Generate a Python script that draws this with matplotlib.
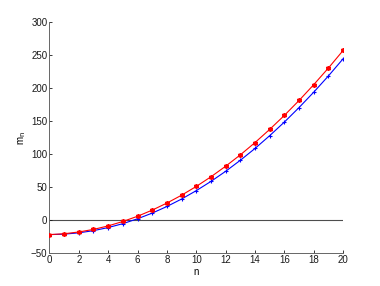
import numpy as np
import matplotlib
matplotlib.use('Agg')
import matplotlib.pyplot as plt

plt.rcParams['font.family'] = ['Liberation Sans', 'DejaVu Sans']

# data
n = list(range(21))
m_red = [-22, -20.7, -18.0, -14.1, -8.8, -2.1, 5.8, 15.1, 25.8, 37.7, 51.0,
         65.6, 81.6, 98.8, 117.4, 137.4, 158.6, 181.2, 205.2, 230.4, 257.0]
m_blue = [-22, -21.3, -19.3, -16.0, -11.3, -5.4, 2.0, 10.6, 20.6, 31.9, 44.6,
          58.6, 73.9, 90.6, 108.5, 127.9, 148.5, 170.5, 193.8, 218.4, 244.4]
xticks = list(range(0, 21, 2))
yticks = [-50, 0, 50, 100, 150, 200, 250, 300]

fig = plt.figure(figsize=(3.8, 2.86), dpi=100)
ax = fig.add_axes([0.130, 0.115, 0.773, 0.808])

ax.axhline(0, color='0.3', lw=0.8, zorder=1)
ax.plot(n, m_blue, color='blue', lw=0.8, marker='+', ms=3.5, mew=0.8, zorder=3)
ax.plot(n, m_red, color='red', lw=0.8, marker=(6, 2, 0), ms=3.5, mew=1.1, zorder=3)

ax.set_xlim(0, 20)
ax.set_ylim(-50, 300)
ax.set_xticks(xticks)
ax.set_yticks(yticks)
ax.tick_params(direction='in', length=2.5, width=0.6, labelsize=7, pad=1.5, colors='0.1')
for s in ['top', 'right']:
    ax.spines[s].set_visible(False)
for s in ['left', 'bottom']:
    ax.spines[s].set_color('0.4')
    ax.spines[s].set_linewidth(0.7)

ax.set_xlabel('n', fontsize=7, labelpad=1)
ax.set_ylabel(r'm$_{\rm n}$', fontsize=7, labelpad=2)

fig.savefig('out.png', dpi=100)
